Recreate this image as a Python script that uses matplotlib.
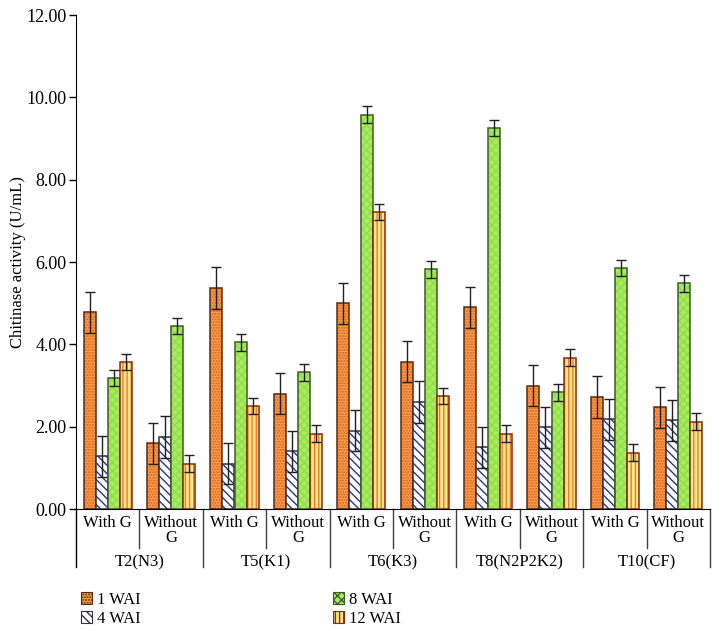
import matplotlib
matplotlib.use("Agg")
import numpy as np
from matplotlib import pyplot as plt
from matplotlib.patches import Patch

treatments = ["T2(N3)", "T5(K1)", "T6(K3)", "T8(N2P2K2)", "T10(CF)"]
subgroups = ["With G", "Without\nG"]
series = ["1 WAI", "4 WAI", "8 WAI", "12 WAI"]

# one value per treatment/subgroup pair, in order
wai1 = [4.78, 1.60, 5.37, 2.80, 5.00, 3.58, 4.90, 3.00, 2.72, 2.47]
wai4 = [1.28, 1.75, 1.10, 1.40, 1.90, 2.60, 1.50, 1.98, 2.18, 2.15]
wai8 = [3.18, 4.45, 4.05, 3.32, 9.58, 5.82, 9.25, 2.83, 5.85, 5.48]
wai12 = [3.57, 1.10, 2.50, 1.83, 7.22, 2.75, 1.83, 3.68, 1.37, 2.12]

err1 = [0.50, 0.50, 0.50, 0.50, 0.50, 0.50, 0.50, 0.50, 0.50, 0.50]
err4 = [0.50, 0.50, 0.50, 0.50, 0.50, 0.50, 0.50, 0.50, 0.50, 0.50]
err8 = [0.20, 0.20, 0.20, 0.20, 0.20, 0.20, 0.20, 0.20, 0.20, 0.20]
err12 = [0.20, 0.20, 0.20, 0.20, 0.20, 0.20, 0.20, 0.20, 0.20, 0.20]

yticks = [0, 2, 4, 6, 8, 10, 12]

plt.rcParams["font.family"] = ["Liberation Serif", "DejaVu Serif"]
plt.rcParams["hatch.linewidth"] = 1.0

styles = [
    dict(fc="#f7a24a", hc="#e05a22", hatch="......", ec="#5a2a10"),
    dict(fc="#ffffff", hc="#25387a", hatch="\\\\\\\\", ec="#303040"),
    dict(fc="#a8ec60", hc="#94dc4a", hatch="xxxx", ec="#3d5a2a"),
    dict(fc="#ffe98a", hc="#f0782a", hatch="||||", ec="#8b2a10"),
]

fig = plt.figure(figsize=(7.21, 6.31), dpi=100)
ax = fig.add_axes([76 / 721, 1 - 509 / 631, (710 - 76) / 721, 494 / 631])

n = len(wai1)
x = np.arange(n) + 0.5
w = 0.19
values = [wai1, wai4, wai8, wai12]
errors = [err1, err4, err8, err12]
handles = []
for k, (vals, errs, st) in enumerate(zip(values, errors, styles)):
    pos = x + (k - 1.5) * w
    ax.bar(pos, vals, w, color=st["fc"], edgecolor=st["hc"], hatch=st["hatch"], linewidth=0)
    ax.bar(pos, vals, w, fill=False, edgecolor=st["ec"], linewidth=1.1)
    ax.errorbar(pos, vals, yerr=errs, fmt="none", ecolor="#202020", elinewidth=1.0, capsize=3.5, capthick=1.0)
    handles.append(Patch(facecolor=st["fc"], edgecolor=st["ec"], hatch=st["hatch"], linewidth=0.8))

ax.set_xlim(0, n)
ax.set_ylim(0, 12)
ax.set_yticks(yticks)
ax.set_yticklabels([f"{t:.2f}" for t in yticks], fontsize=13)
ax.tick_params(axis="y", direction="out", length=5, width=1, pad=2)
ax.set_xticks([])
for s in ["top", "right"]:
    ax.spines[s].set_visible(False)
ax.spines["left"].set_bounds(0, 12)
ax.set_ylabel("Chitinase activity (U/mL)", fontsize=12, va="center")
ax.yaxis.set_label_coords(-58 / 634, 0.5)

tr = ax.get_xaxis_transform()
sub_depth = -39 / 494
grp_depth = -58 / 494
ax.plot([0, 0], [0, grp_depth], color="black", lw=1, transform=tr, clip_on=False)
for i in range(n):
    ax.text(x[i], -0.012, subgroups[i % 2], ha="center", va="top", fontsize=12,
            linespacing=0.9, transform=tr)
    edge = i + 1
    if edge % 2 == 1:
        ax.plot([edge, edge], [0, sub_depth], color="#404040", lw=1, transform=tr, clip_on=False)
    else:
        ax.plot([edge, edge], [0, grp_depth], color="#404040", lw=1, transform=tr, clip_on=False)
for j, t in enumerate(treatments):
    ax.text(2 * j + 1, -0.109, t, ha="center", va="center", fontsize=12, transform=tr)

fig.legend(handles, series, loc="upper left", bbox_to_anchor=(74 / 721, 1 - 585 / 631),
           ncol=2, frameon=False, fontsize=12, handlelength=0.7, handleheight=0.7,
           handletextpad=0.3, columnspacing=11.5, labelspacing=0.2, borderaxespad=0)

fig.savefig("out.png", dpi=100)
